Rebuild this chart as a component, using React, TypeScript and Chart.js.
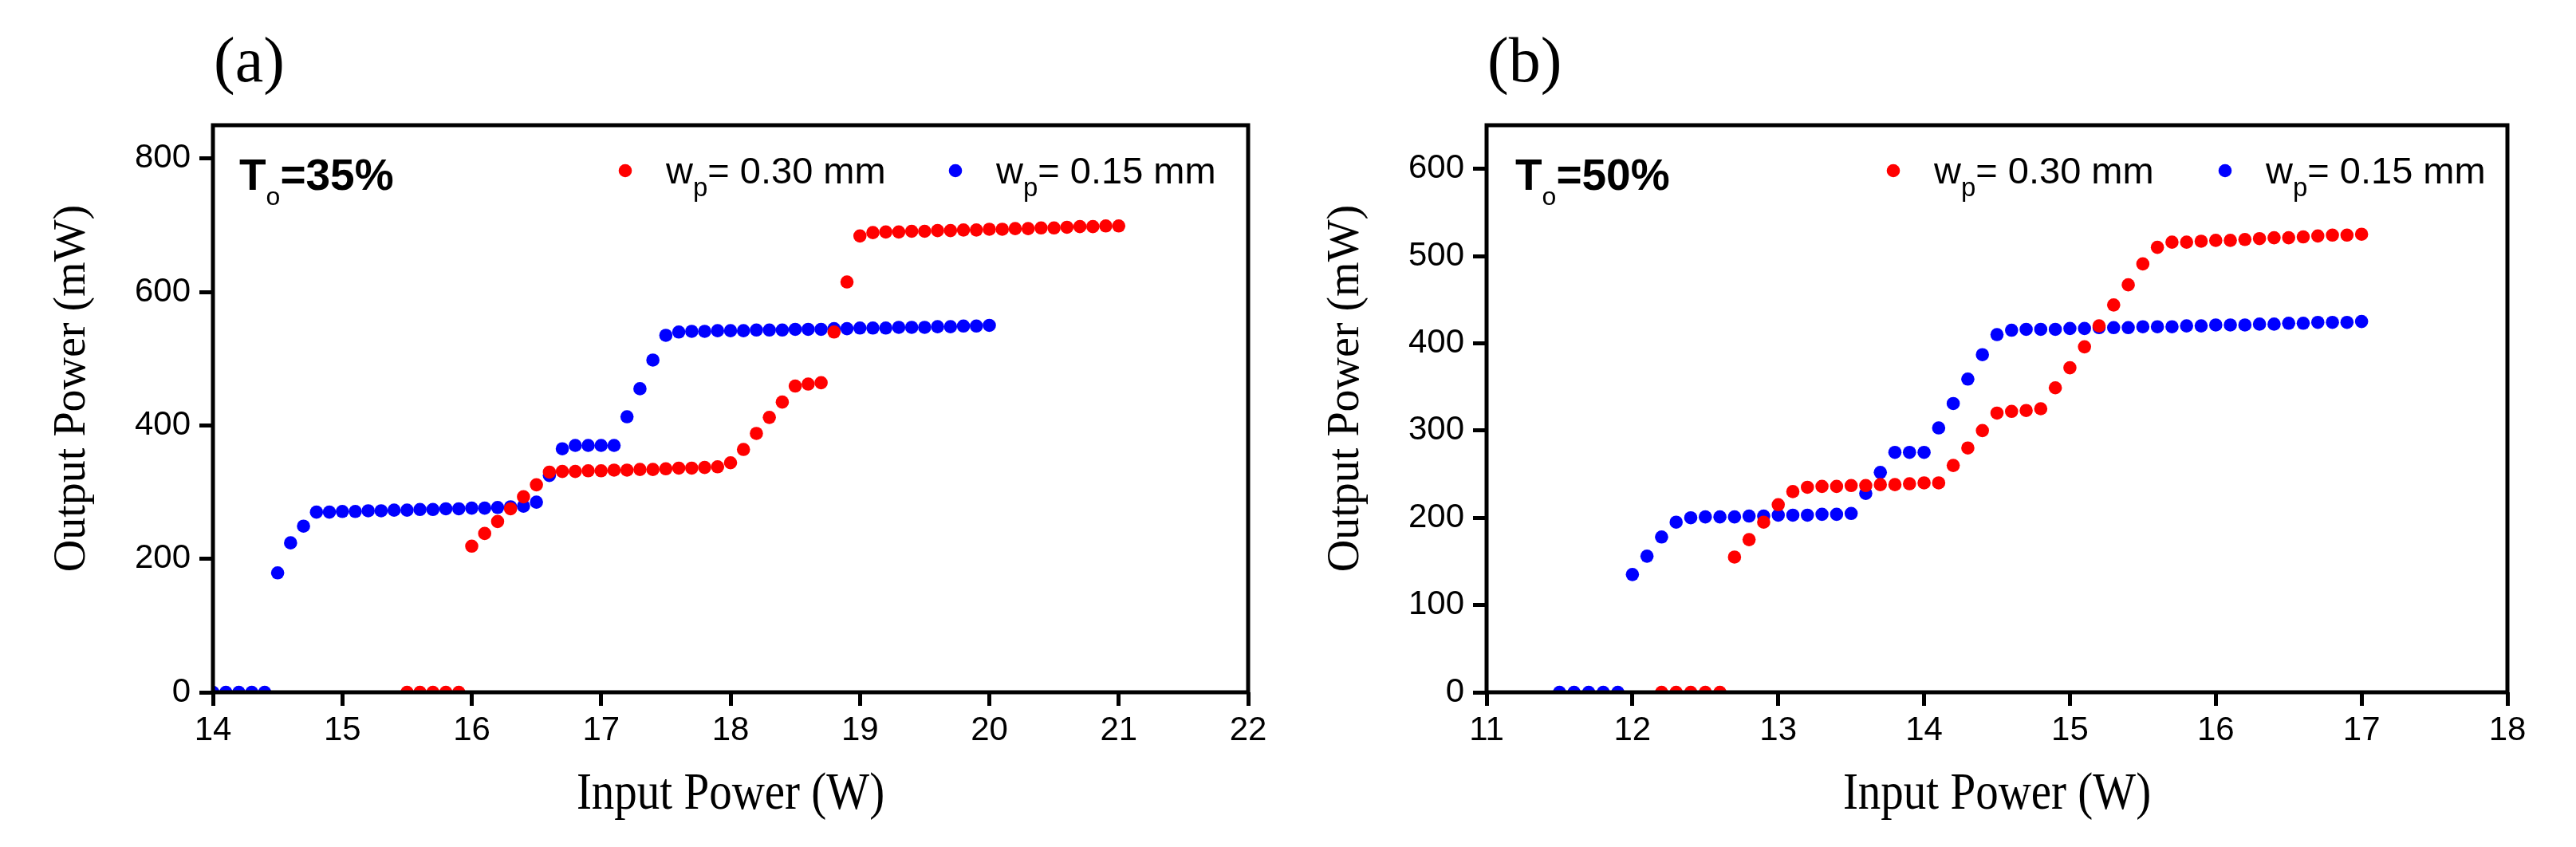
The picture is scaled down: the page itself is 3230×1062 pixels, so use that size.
import { useEffect, useRef } from 'react';
import { Chart, registerables } from 'chart.js';

Chart.register(...registerables);

const PANEL_W = 1615;
const PANEL_H = 1062;
const PLOT_TOP = 157;
const PLOT_BOTTOM = 868;

const RED = '#ff0000';
const BLUE = '#0000ff';

// ---- panel (a), To = 35% ----
const inputA30 = [
    15.5, 15.6, 15.7, 15.8, 15.9, 16.0, 16.1, 16.2, 16.3, 16.4, 16.5, 16.6, 16.7, 16.8,
    16.9, 17.0, 17.1, 17.2, 17.3, 17.4, 17.5, 17.6, 17.7, 17.8, 17.9, 18.0, 18.1, 18.2,
    18.3, 18.4, 18.5, 18.6, 18.7, 18.8, 18.9, 19.0, 19.1, 19.2, 19.3, 19.4, 19.5, 19.6,
    19.7, 19.8, 19.9, 20.0, 20.1, 20.2, 20.3, 20.4, 20.5, 20.6, 20.7, 20.8, 20.9, 21.0
];
const outputA30 = [
    0, 0, 0, 0, 0, 219, 238, 256, 275, 293, 311, 330, 331, 331,
    332, 332, 333, 333, 334, 334, 335, 336, 336, 337, 338, 344, 364, 388,
    412, 435, 459, 462, 464, 540, 615, 684, 689, 690, 690, 691, 691, 692,
    692, 693, 693, 694, 694, 695, 695, 696, 696, 697, 698, 698, 699, 699
];
const inputA15 = [
    14.0, 14.1, 14.2, 14.3, 14.4, 14.5, 14.6, 14.7, 14.8, 14.9, 15.0, 15.1, 15.2, 15.3,
    15.4, 15.5, 15.6, 15.7, 15.8, 15.9, 16.0, 16.1, 16.2, 16.3, 16.4, 16.5, 16.6, 16.7,
    16.8, 16.9, 17.0, 17.1, 17.2, 17.3, 17.4, 17.5, 17.6, 17.7, 17.8, 17.9, 18.0, 18.1,
    18.2, 18.3, 18.4, 18.5, 18.6, 18.7, 18.8, 18.9, 19.0, 19.1, 19.2, 19.3, 19.4, 19.5,
    19.6, 19.7, 19.8, 19.9, 20.0
];
const outputA15 = [
    0, 0, 0, 0, 0, 179, 224, 249, 270, 270, 271, 271, 272, 272,
    273, 273, 274, 274, 275, 275, 276, 276, 277, 278, 279, 285, 325, 365,
    370, 370, 370, 370, 413, 455, 498, 535, 540, 541, 541, 542, 542, 542,
    543, 543, 543, 544, 544, 544, 545, 545, 546, 546, 546, 547, 547, 547,
    548, 548, 549, 549, 550
];
const xTicksA = [14, 15, 16, 17, 18, 19, 20, 21, 22];
const yTicksA = [0, 200, 400, 600, 800];

// ---- panel (b), To = 50% ----
const inputB30 = [
    12.2, 12.3, 12.4, 12.5, 12.6, 12.7, 12.8, 12.9, 13.0, 13.1, 13.2, 13.3, 13.4, 13.5,
    13.6, 13.7, 13.8, 13.9, 14.0, 14.1, 14.2, 14.3, 14.4, 14.5, 14.6, 14.7, 14.8, 14.9,
    15.0, 15.1, 15.2, 15.3, 15.4, 15.5, 15.6, 15.7, 15.8, 15.9, 16.0, 16.1, 16.2, 16.3,
    16.4, 16.5, 16.6, 16.7, 16.8, 16.9, 17.0
];
const outputB30 = [
    0, 0, 0, 0, 0, 155, 175, 195, 215, 230, 235, 236, 236, 237,
    237, 238, 238, 239, 240, 240, 260, 280, 300, 320, 322, 323, 325, 349,
    372, 396, 420, 444, 467, 491, 510, 516, 516, 517, 518, 518, 519, 520,
    521, 521, 522, 523, 524, 524, 525
];
const inputB15 = [
    11.5, 11.6, 11.7, 11.8, 11.9, 12.0, 12.1, 12.2, 12.3, 12.4, 12.5, 12.6, 12.7, 12.8,
    12.9, 13.0, 13.1, 13.2, 13.3, 13.4, 13.5, 13.6, 13.7, 13.8, 13.9, 14.0, 14.1, 14.2,
    14.3, 14.4, 14.5, 14.6, 14.7, 14.8, 14.9, 15.0, 15.1, 15.2, 15.3, 15.4, 15.5, 15.6,
    15.7, 15.8, 15.9, 16.0, 16.1, 16.2, 16.3, 16.4, 16.5, 16.6, 16.7, 16.8, 16.9, 17.0
];
const outputB15 = [
    0, 0, 0, 0, 0, 135, 156, 178, 195, 200, 201, 201, 201, 202,
    202, 203, 203, 203, 204, 204, 205, 228, 252, 275, 275, 275, 303, 331,
    359, 387, 410, 415, 416, 416, 416, 417, 417, 418, 418, 418, 419, 419,
    419, 420, 420, 421, 421, 421, 422, 422, 423, 423, 424, 424, 424, 425
];
const xTicksB = [11, 12, 13, 14, 15, 16, 17, 18];
const yTicksB = [0, 100, 200, 300, 400, 500, 600];

const seriesLabels = [
    { main: 'w', sub: 'p', rest: '= 0.30 mm' },
    { main: 'w', sub: 'p', rest: '= 0.15 mm' }
];

interface PanelSpec {
    tag: string;
    transmission: string;
    xMin: number;
    xMax: number;
    yMax: number;
    xTicks: number[];
    yTicks: number[];
    plotLeft: number;
    plotRight: number;
    legendDots: number[];
    tagX: number;
    series: { xs: number[]; ys: number[]; color: string }[];
}

const panelA: PanelSpec = {
    tag: '(a)',
    transmission: '=35%',
    xMin: 14,
    xMax: 22,
    yMax: 850,
    xTicks: xTicksA,
    yTicks: yTicksA,
    plotLeft: 267,
    plotRight: 1565,
    legendDots: [517, 931],
    tagX: 33,
    series: [
        { xs: inputA30, ys: outputA30, color: RED },
        { xs: inputA15, ys: outputA15, color: BLUE }
    ]
};

const panelB: PanelSpec = {
    tag: '(b)',
    transmission: '=50%',
    xMin: 11,
    xMax: 18,
    yMax: 650,
    xTicks: xTicksB,
    yTicks: yTicksB,
    plotLeft: 249,
    plotRight: 1529,
    legendDots: [510, 926],
    tagX: 36,
    series: [
        { xs: inputB30, ys: outputB30, color: RED },
        { xs: inputB15, ys: outputB15, color: BLUE }
    ]
};

const SANS = '"Liberation Sans", Arial, sans-serif';
const SERIF = '"Liberation Serif", "Times New Roman", serif';

// text with a subscript in the middle, e.g. T_o=35%
function drawSubscripted(
    ctx: CanvasRenderingContext2D, x: number, y: number,
    main: string, sub: string, rest: string,
    font: string, subFont: string, restFont: string, drop: number
) {
    ctx.font = font;
    ctx.fillText(main, x, y);
    x += ctx.measureText(main).width;
    ctx.font = subFont;
    ctx.fillText(sub, x, y + drop);
    x += ctx.measureText(sub).width;
    ctx.font = restFont;
    ctx.fillText(rest, x, y);
}

function makeDecor(spec: PanelSpec) {
    return {
        id: 'panelDecor',
        afterDatasetsDraw(chart: Chart) {
            const { ctx, chartArea } = chart;
            const { left, top, right, bottom } = chartArea;
            ctx.save();

            // frame
            ctx.strokeStyle = '#000';
            ctx.lineWidth = 5;
            ctx.strokeRect(left, top, right - left, bottom - top);

            ctx.fillStyle = '#000';
            ctx.textBaseline = 'alphabetic';

            // panel tag
            ctx.textAlign = 'left';
            ctx.font = `80px ${SERIF}`;
            ctx.fillText(spec.tag, left + 1, 102);

            // To=..%
            drawSubscripted(ctx, left + spec.tagX, 238, 'T', 'o', spec.transmission,
                `bold 55px ${SANS}`, `32px ${SANS}`, `bold 55px ${SANS}`, 19);

            // legend
            spec.series.forEach((s, i) => {
                const cx = left + spec.legendDots[i];
                ctx.fillStyle = s.color;
                ctx.beginPath();
                ctx.arc(cx, 214, 8.3, 0, Math.PI * 2);
                ctx.fill();
                ctx.fillStyle = '#000';
                const lbl = seriesLabels[i];
                drawSubscripted(ctx, cx + 51, 230, lbl.main, lbl.sub, lbl.rest,
                    `47px ${SANS}`, `33px ${SANS}`, `47px ${SANS}`, 16);
            });

            // axis titles
            ctx.textAlign = 'center';
            ctx.save();
            ctx.translate((left + right) / 2, 1014);
            ctx.scale(1, 1.15);
            ctx.font = `57px ${SERIF}`;
            ctx.fillText('Input Power (W)', 0, 0);
            ctx.restore();

            ctx.save();
            ctx.translate(left - 161, 487);
            ctx.rotate(-Math.PI / 2);
            ctx.font = `56px ${SERIF}`;
            ctx.fillText('Output Power (mW)', 0, 0);
            ctx.restore();

            ctx.restore();
        }
    };
}

function Panel({ spec, offset }: { spec: PanelSpec; offset: number }) {
    const canvasRef = useRef<HTMLCanvasElement>(null);

    useEffect(() => {
        if (!canvasRef.current) return;
        const ctx = canvasRef.current.getContext('2d');
        if (!ctx) return;

        const tickGrid = {
            display: true,
            drawOnChartArea: false,
            drawTicks: true,
            tickLength: 17,
            tickWidth: 5,
            tickColor: '#000'
        };

        const chart = new Chart(ctx, {
            type: 'scatter',
            data: {
                datasets: spec.series.map((s, i) => ({
                    label: seriesLabels[i].main + seriesLabels[i].sub + seriesLabels[i].rest,
                    data: s.xs.map((x, j) => ({ x, y: s.ys[j] })),
                    backgroundColor: s.color,
                    borderColor: s.color,
                    pointRadius: 8.3,
                    pointHoverRadius: 8.3,
                    pointBorderWidth: 0,
                    showLine: false
                }))
            },
            options: {
                animation: false,
                responsive: true,
                maintainAspectRatio: false,
                devicePixelRatio: 1,
                events: [],
                layout: {
                    padding: { left: 0, top: PLOT_TOP, right: PANEL_W - spec.plotRight, bottom: 0 }
                },
                plugins: {
                    legend: { display: false },
                    tooltip: { enabled: false }
                },
                scales: {
                    x: {
                        type: 'linear',
                        min: spec.xMin,
                        max: spec.xMax,
                        afterBuildTicks: (scale: any) => {
                            scale.ticks = spec.xTicks.map(v => ({ value: v }));
                        },
                        afterFit: (scale: any) => {
                            scale.height = PANEL_H - PLOT_BOTTOM;
                        },
                        grid: tickGrid,
                        border: { display: false },
                        ticks: {
                            color: '#000',
                            font: { family: SANS, size: 42 },
                            padding: 6,
                            maxRotation: 0,
                            autoSkip: false
                        }
                    },
                    y: {
                        type: 'linear',
                        min: 0,
                        max: spec.yMax,
                        afterBuildTicks: (scale: any) => {
                            scale.ticks = spec.yTicks.map(v => ({ value: v }));
                        },
                        afterFit: (scale: any) => {
                            scale.width = spec.plotLeft;
                        },
                        grid: tickGrid,
                        border: { display: false },
                        ticks: {
                            color: '#000',
                            font: { family: SANS, size: 42 },
                            padding: 11,
                            autoSkip: false
                        }
                    }
                }
            },
            plugins: [makeDecor(spec)]
        });

        return () => {
            chart.destroy();
        };
    }, [spec]);

    return (
        <div style={{ position: 'absolute', left: offset, top: 0, width: PANEL_W, height: PANEL_H }}>
            <canvas ref={canvasRef} />
        </div>
    );
}

export default function App() {
    return (
        <div style={{ position: 'absolute', left: 0, top: 0, width: PANEL_W * 2, height: PANEL_H, background: '#fff' }}>
            <Panel spec={panelA} offset={0} />
            <Panel spec={panelB} offset={PANEL_W} />
        </div>
    );
}
